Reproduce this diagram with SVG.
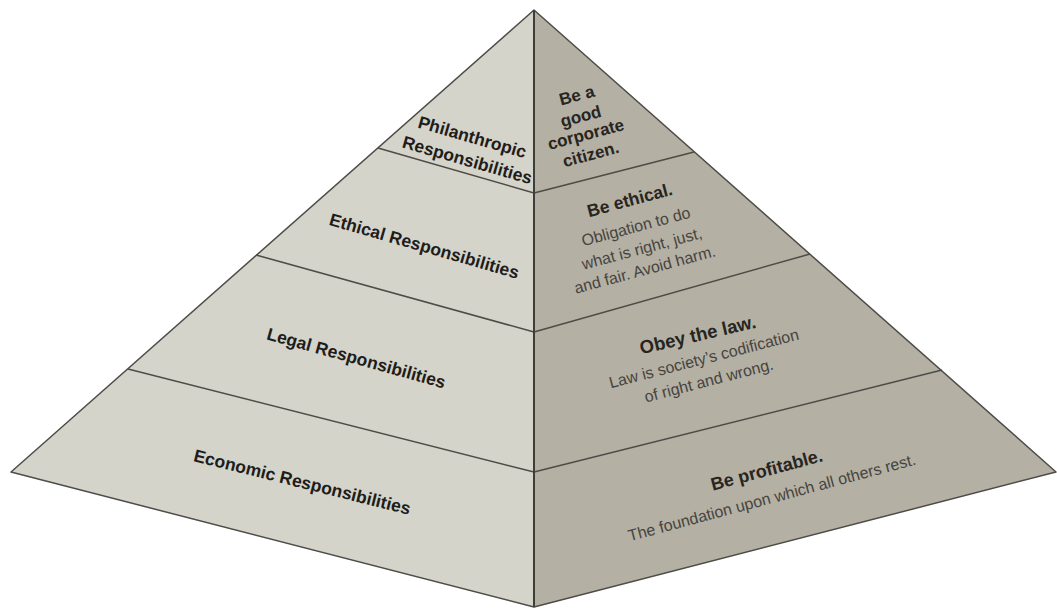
<svg xmlns="http://www.w3.org/2000/svg" width="1057" height="611" viewBox="0 0 1057 611">
<style>
.lf{fill:#d5d4ca}
.rf{fill:#b4b0a4}
.ln{stroke:#4d4c47;stroke-width:1.5;fill:none;stroke-linejoin:round}
.rg{stroke:#3e3d39;stroke-width:2;fill:none}
.lt{font-family:"Liberation Sans",Arial,sans-serif;font-weight:bold;font-size:17.5px;fill:#1e1d1a;text-anchor:middle}
.rb{font-family:"Liberation Sans",Arial,sans-serif;font-weight:bold;font-size:17.5px;fill:#26251f;text-anchor:middle}
.rr{font-family:"Liberation Sans",Arial,sans-serif;font-size:16px;fill:#46443e;text-anchor:middle}
</style>
<rect width="1057" height="611" fill="#ffffff"/>
<g id="faces">
<polygon class="lf" points="534,10 11,472 534,607"/>
<polygon class="rf" points="534,10 1056,472 534,607"/>
</g>
<g id="connectors">
<polyline class="ln" points="378,148 534,193 694,152"/>
<polyline class="ln" points="256,255 534,332 810,254"/>
<polyline class="ln" points="128,369 534,472 942,370"/>
<polygon class="ln" points="534,10 11,472 534,607 1056,472"/>
<line class="rg" x1="534" y1="10" x2="534" y2="607"/>
</g>
<g id="philanthropic">
<text class="lt" transform="translate(472,138) rotate(16)" y="5">Philanthropic</text>
<text class="lt" transform="translate(467,161) rotate(16)" y="5">Responsibilities</text>
<text class="rb" font-size="17" transform="translate(577,96) rotate(-15)" y="5" style="font-size:17px">Be a</text>
<text class="rb" transform="translate(581,117) rotate(-15)" y="5" style="font-size:17px">good</text>
<text class="rb" transform="translate(586,135) rotate(-15)" y="5" style="font-size:17px">corporate</text>
<text class="rb" transform="translate(591,155) rotate(-15)" y="5" style="font-size:17px">citizen.</text>
</g>
<g id="ethical">
<text class="lt" transform="translate(424,247) rotate(16)" y="5">Ethical Responsibilities</text>
<text class="rb" transform="translate(630,201) rotate(-15)" y="5">Be ethical.</text>
<text class="rr" transform="translate(636,227) rotate(-15)" y="5">Obligation to do</text>
<text class="rr" transform="translate(642,249) rotate(-15)" y="5">what is right, just,</text>
<text class="rr" transform="translate(645,270) rotate(-15)" y="5">and fair. Avoid harm.</text>
</g>
<g id="legal">
<text class="lt" transform="translate(356,359) rotate(15.5)" y="5">Legal Responsibilities</text>
<text class="rb" transform="translate(698,336) rotate(-13)" y="5" style="font-size:18.5px">Obey the law.</text>
<text class="rr" transform="translate(704,359) rotate(-14.5)" y="5">Law is society’s codification</text>
<text class="rr" transform="translate(709,381) rotate(-14.5)" y="5">of right and wrong.</text>
</g>
<g id="economic">
<text class="lt" transform="translate(302,483) rotate(14)" y="5">Economic Responsibilities</text>
<text class="rb" transform="translate(767,471) rotate(-15)" y="5" style="font-size:18px">Be profitable.</text>
<text class="rr" transform="translate(772,498) rotate(-15)" y="5">The foundation upon which all others rest.</text>
</g>
</svg>
